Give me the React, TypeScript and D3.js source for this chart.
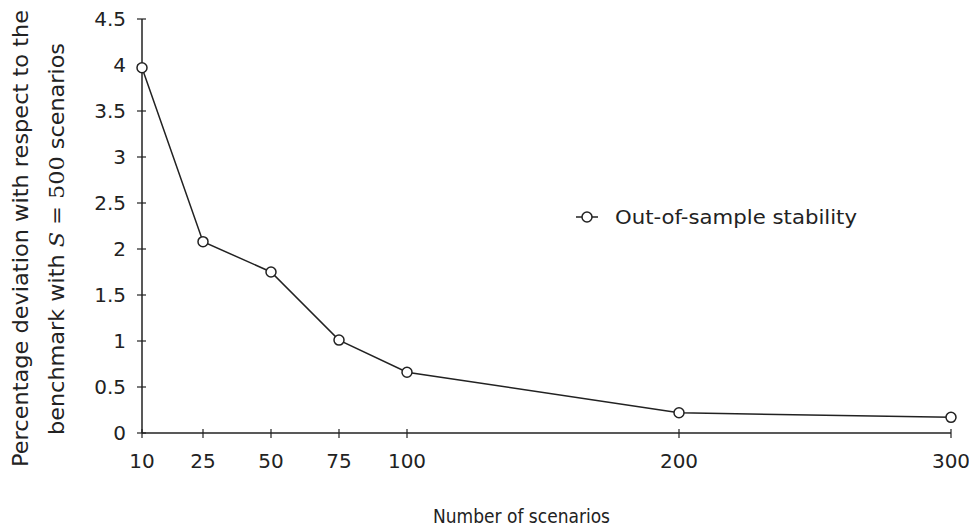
import React, { useEffect, useRef } from 'react';
import * as d3 from 'd3';

// scenario counts and deviation (%)
const scenarios = [10, 25, 50, 75, 100, 200, 300];
const deviation = [3.97, 2.08, 1.75, 1.01, 0.66, 0.22, 0.17];
const yTicks = [0, 0.5, 1, 1.5, 2, 2.5, 3, 3.5, 4, 4.5];
const seriesName = 'Out-of-sample stability';

const W = 977;
const H = 531;
const FONT = '"DejaVu Sans", sans-serif';
const SERIF = '"DejaVu Serif", serif';

export default function App() {
  const ref = useRef<SVGSVGElement>(null);

  useEffect(() => {
    const svg = d3.select(ref.current);
    svg.selectAll('*').remove();

    // first tick sits at the axis origin, the rest are linear
    const x = d3.scaleLinear().domain([10, 25, 300]).range([142, 203, 951]);
    const y = d3.scaleLinear().domain([0, 4.5]).range([433, 19]);

    const g = svg.append('g').attr('font-family', FONT).attr('fill', '#222');

    // axes lines
    g.append('line')
      .attr('x1', x(10)).attr('x2', x(300))
      .attr('y1', y(0)).attr('y2', y(0))
      .attr('stroke', '#222').attr('stroke-width', 1.5);
    g.append('line')
      .attr('x1', x(10)).attr('x2', x(10))
      .attr('y1', y(0)).attr('y2', y(4.5))
      .attr('stroke', '#222').attr('stroke-width', 1.5);

    // x ticks
    const xt = g.selectAll('.xt').data(scenarios).enter().append('g')
      .attr('transform', d => `translate(${x(d)},${y(0)})`);
    xt.append('line').attr('y1', -4).attr('y2', 5).attr('stroke', '#222').attr('stroke-width', 1.2);
    xt.append('text').attr('y', 35).attr('text-anchor', 'middle')
      .attr('font-size', 20).text(d => d);

    // y ticks
    const yt = g.selectAll('.yt').data(yTicks).enter().append('g')
      .attr('transform', d => `translate(${x(10)},${y(d)})`);
    yt.append('line').attr('x1', -5).attr('x2', 4).attr('stroke', '#222').attr('stroke-width', 1.2);
    yt.append('text').attr('x', -16).attr('dy', '0.36em').attr('text-anchor', 'end')
      .attr('font-size', 20).text(d => d);

    // line + markers
    const pts = scenarios.map((s, i) => [s, deviation[i]] as [number, number]);
    const line = d3.line<[number, number]>().x(d => x(d[0])).y(d => y(d[1]));
    g.append('path').datum(pts).attr('d', line)
      .attr('fill', 'none').attr('stroke', '#222').attr('stroke-width', 1.5);
    g.selectAll('.pt').data(pts).enter().append('circle')
      .attr('cx', d => x(d[0])).attr('cy', d => y(d[1])).attr('r', 5)
      .attr('fill', '#fff').attr('stroke', '#222').attr('stroke-width', 1.5);

    // legend
    const lg = g.append('g').attr('transform', 'translate(576,217)');
    lg.append('line').attr('x1', 0).attr('x2', 22).attr('stroke', '#222').attr('stroke-width', 1.5);
    lg.append('circle').attr('cx', 11).attr('r', 5)
      .attr('fill', '#fff').attr('stroke', '#222').attr('stroke-width', 1.5);
    lg.append('text').attr('x', 39).attr('y', 7).attr('font-size', 20)
      .attr('textLength', 242).attr('lengthAdjust', 'spacingAndGlyphs').text(seriesName);

    // axis titles
    g.append('text').attr('x', 433).attr('y', 523).attr('font-size', 20)
      .attr('textLength', 177).attr('lengthAdjust', 'spacingAndGlyphs').text('Number of scenarios');

    g.append('text').attr('transform', 'translate(28,467) rotate(-90)')
      .attr('font-size', 21).attr('textLength', 457).attr('lengthAdjust', 'spacingAndGlyphs')
      .text('Percentage deviation with respect to the');
    const l2 = g.append('text').attr('transform', 'translate(64,435) rotate(-90)')
      .attr('font-size', 21).attr('textLength', 392).attr('lengthAdjust', 'spacingAndGlyphs');
    l2.append('tspan').text('benchmark with ');
    l2.append('tspan').attr('font-family', SERIF).attr('font-style', 'italic').text('S');
    l2.append('tspan').attr('font-family', SERIF).text(' = 500 ');
    l2.append('tspan').text('scenarios');
  }, []);

  return <svg ref={ref} width={W} height={H} style={{ display: 'block', margin: -8 }} />;
}
